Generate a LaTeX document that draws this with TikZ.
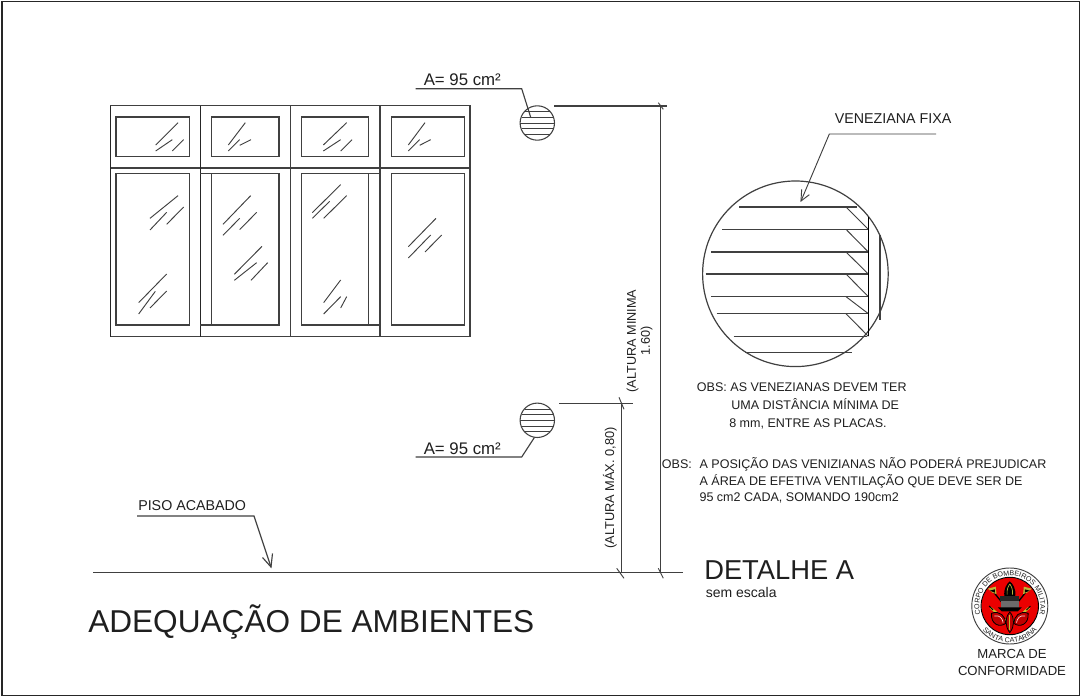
\documentclass[tikz,border=0pt]{standalone}
\usepackage{fontspec}
\setmainfont{Liberation Sans}
\usetikzlibrary{decorations.text}
\definecolor{ln}{gray}{0.25}
\definecolor{tx}{gray}{0.12}
\newcommand{\pxfont}[1]{\fontsize{#1}{#1}\selectfont}
\tikzset{
  line/.style={draw=ln,line width=0.85pt},
  thin line/.style={draw=ln,line width=0.7pt},
  frame line/.style={draw=black!85,line width=0.8pt},
  glass/.style={draw=ln,line width=0.7pt},
  lbl/.style={anchor=base west,inner sep=0pt,text=tx},
  lblc/.style={anchor=base,inner sep=0pt,text=tx,align=center},
  vent/.style={circle,draw=ln,line width=0.8pt,minimum size=25.8pt,inner sep=0pt},
}
\begin{document}
\begin{tikzpicture}[x=0.75pt,y=-0.75pt]
\useasboundingbox (0,0) rectangle (1083,698);
\fill[white] (0,0) rectangle (1083,698);
\draw[frame line] (2,1.5) rectangle (1079.5,695.5);

% window
\draw[line] (110.3,105.7) rectangle (470,336.7);
\draw[line] (110.3,168) -- (470,168);
\draw[frame line] (110.3,105.7) -- (110.3,336.7);
\draw[frame line] (200.3,105.7) -- (200.3,336.7);
\draw[line] (290.3,105.7) -- (290.3,336.7);
\draw[line] (380,105.7) -- (380,336.7);
\foreach \a/\b in {116/189.3,211.7/279,301.3/368.7,391.3/464.3}{
  \draw[line] (\a,117) rectangle (\b,156.7);
  \draw[line] (\a,173.3) rectangle (\b,325);
}
\draw[line] (200.3,173.3) -- (211.7,173.3) (200.3,325) -- (211.7,325);
\draw[line] (368.7,173.3) -- (380,173.3) (368.7,325) -- (380,325);
\begin{scope}[shift={(90,90)},x=0.25pt,y=-0.25pt]
\draw[glass]
 (197,165)--(264,98) (197,183)--(247,149) (247,183)--(281,149)
 (415,165)--(466,98) (415,183)--(449,149) (449,166)--(483,149)
 (700,165)--(770,98) (700,183)--(752,149) (752,183)--(786,149)
 (955,165)--(1005,98) (955,183)--(989,149) (989,166)--(1022,149)
 (180,385)--(264,317) (180,420)--(230,367) (230,403)--(281,351)
 (146,638)--(230,552) (146,672)--(196,604) (180,654)--(230,603)
 (399,403)--(482,317) (399,436)--(449,385) (449,419)--(500,367)
 (433,553)--(516,469) (433,571)--(500,518) (483,571)--(533,518)
 (667,368)--(752,284) (667,385)--(719,334) (701,385)--(770,317)
 (701,638)--(752,570) (701,672)--(752,620) (752,654)--(770,620)
 (955,470)--(1038,385) (955,504)--(1022,435) (1005,486)--(1055,435);
\end{scope}

% small vents
\node[vent] (ventA) at (537.3,123) {};
\node[vent] (ventB) at (537.3,420.3) {};
\foreach \c in {123,420.3}{
  \draw[thin line] (524.5,\c-11.3) -- (550.1,\c-11.3)
   (521.7,\c-5.7) -- (552.9,\c-5.7)
   (520.4,\c) -- (554.2,\c)
   (521.7,\c+5.7) -- (552.9,\c+5.7)
   (524.5,\c+11.3) -- (550.1,\c+11.3);
}
% vent leaders
\coordinate (la1) at (415.7,88.7); \coordinate (la2) at (521.7,88.7); \coordinate (la3) at (530.7,117.3);
\draw[line] (la1) -- (la2) -- (la3);
\coordinate (lb1) at (415.7,457); \coordinate (lb2) at (521.7,457);
\draw[line] (lb1) -- (lb2) -- (ventB.260);
\node[lbl,font=\pxfont{12.6}] (a1) at (423.5,86) {A= 95 cm²};
\node[lbl,font=\pxfont{12.6}] (a2) at (423.5,454.5) {A= 95 cm²};

% ground and dimensions
\coordinate (g1) at (93,572.3); \coordinate (g2) at (683.3,572.3);
\draw[line] (g1) -- (g2);
\draw[line] (554,106) -- (666.7,106);
\draw[line] (559.3,403.7) -- (632.7,403.7);
\draw[thin line] (660.7,106) -- (660.7,572.3);
\draw[thin line] (621.3,403.7) -- (621.3,572.3);
\draw[thin line] (658.3,102.7) -- (663.3,109.3);
\draw[thin line] (619,397.3) -- (624,409.3);
\draw[thin line] (616.7,568.3) -- (624,578.3);
\draw[thin line] (658.3,568.3) -- (663.3,578.3);
\node[font=\pxfont{9.5},text=tx,rotate=90,align=center,inner sep=0pt] (d1) at (639.5,341) {(ALTURA MINIMA\\[1pt]1.60)};
\node[font=\pxfont{9.6},text=tx,rotate=90,inner sep=0pt] (d2) at (610,488) {(ALTURA MÁX. 0,80)};

% piso acabado
\coordinate (p1) at (137,516); \coordinate (p2) at (254,516); \coordinate (p3) at (271,567);
\draw[line] (p1) -- (p2) -- (p3);
\draw[line] (262.5,557.5) -- (p3) -- (272.5,553.5);
\node[lbl,font=\pxfont{10.7}] (piso) at (138,511) {PISO ACABADO};

% big detail
\node[circle,draw=ln,line width=0.9pt,minimum size=139.2pt,inner sep=0pt] (big) at (795.4,273.8) {};
\begin{scope}[shift={(690,100)},x=0.25pt,y=-0.25pt]
\draw[line] (148,321)--(500,321) (97,388)--(535,388) (63,456)--(535,456) (47,522)--(535,522)
 (63,590)--(535,590) (80,641)--(535,641) (131,709)--(530,709) (165,758)--(485,758);
\draw[thin line] (468,321)--(535,388) (468,388)--(535,456) (468,456)--(535,522)
 (468,522)--(535,590) (468,590)--(535,641) (468,641)--(535,709);
\draw[draw=black,line width=0.8pt] (535,352)--(535,709);
\draw[line] (570,405)--(570,660);
\draw[thin line] (738,102)--(418,102)--(333,303);
\draw[thin line] (358,284)--(333,303)--(335,268);
\end{scope}
\node[lbl,font=\pxfont{10.7}] (vf) at (834.5,123.5) {VENEZIANA FIXA};

% notes
\node[lbl,font=\pxfont{9.4}] (o1) at (696.7,392) {OBS: AS VENEZIANAS DEVEM TER};
\node[lbl,font=\pxfont{9.4}] (o2) at (731,410) {UMA DISTÂNCIA MÍNIMA DE};
\node[lbl,font=\pxfont{9.4}] (o3) at (729,427.5) {8 mm, ENTRE AS PLACAS.};
\node[lbl,font=\pxfont{9.4}] (o4) at (661.7,469) {OBS:};
\node[lbl,font=\pxfont{9.4}] (o5) at (699.3,469) {A POSIÇÃO DAS VENIZIANAS NÃO PODERÁ PREJUDICAR};
\node[lbl,font=\pxfont{9.4}] (o6) at (699.3,486) {A ÁREA DE EFETIVA VENTILAÇÃO QUE DEVE SER DE};
\node[lbl,font=\pxfont{9.4}] (o7) at (699.3,501.5) {95 cm2 CADA, SOMANDO 190cm2};

% titles
\node[lbl,font=\pxfont{20.5}] (det) at (704,580) {DETALHE A};
\node[lbl,font=\pxfont{10.5}] (sem) at (705.5,598) {sem escala};
\node[lbl,font=\pxfont{23.7}] (title) at (88,633) {ADEQUAÇÃO DE AMBIENTES};

% seal
\begin{scope}[shift={(1009.8,606)}]
\draw[ln,line width=0.7pt] (0,0) circle (38);
\fill[red!92!black] (0,0) circle (28.5);
\draw[black,line width=0.7pt] (0,0) circle (28.7);
\path[postaction={decorate,decoration={text along path,text align=center,
  text={|\pxfont{5.3}\color{tx}|CORPO DE BOMBEIROS MILITAR}}}]
  (164:30.5) arc[start angle=164,end angle=376,radius=30.5];
\path[postaction={decorate,decoration={text along path,text align=center,
  text={|\pxfont{5.3}\color{tx}|SANTA CATARINA}}}]
  (139:36.5) arc[start angle=139,end angle=41,radius=36.5];
\end{scope}
\begin{scope}[shift={(1009.8,606)},x=0.25pt,y=-0.25pt]
% swords
\draw[yellow!75!black,line width=1.6pt] (-58,5) -- (-8,48);
\draw[yellow!75!black,line width=1.6pt] (58,5) -- (8,48);
\draw[black,line width=0.7pt] (-62,0) -- (-50,12) (62,0) -- (50,12);
% loops
\foreach \s in {-1,1}{
  \draw[black,line width=0.6pt,fill=red!75!black] (\s*55,22) .. controls (\s*30,12) and (\s*12,32) .. (\s*12,52) .. controls (\s*30,66) and (\s*58,55) .. (\s*55,22) -- cycle;
  \draw[white!85!red,line width=0.5pt] (\s*46,30) .. controls (\s*30,26) and (\s*22,38) .. (\s*20,50);
}
\draw[black,line width=0.6pt,fill=red!75!black] (0,18) .. controls (-16,36) and (-14,62) .. (0,80) .. controls (14,62) and (16,36) .. (0,18) -- cycle;
\draw[yellow!75!black,line width=1pt] (0,26) -- (0,72);
% axes
\draw[black,line width=1pt] (-52,-46) -- (-10,6);
\draw[black,line width=1pt] (52,-46) -- (10,6);
\fill[yellow!70!black] (-66,-52) -- (-42,-58) -- (-40,-36) -- (-52,-40) -- cycle;
\fill[yellow!70!black] (66,-52) -- (42,-58) -- (40,-36) -- (52,-40) -- cycle;
\fill[black] (-60,-46) -- (-45,-50) -- (-45,-40) -- cycle;
\fill[black] (60,-46) -- (45,-50) -- (45,-40) -- cycle;
% helmet
\fill[black] (-16,-28) .. controls (-20,-52) and (-8,-68) .. (0,-74) .. controls (8,-68) and (20,-52) .. (16,-28) -- cycle;
\draw[yellow!70!black,line width=0.5pt] (-8,-34) .. controls (-10,-50) and (-4,-60) .. (0,-66) (8,-34) .. controls (10,-50) and (4,-60) .. (0,-66);
\fill[black!85] (-28,-30) rectangle (28,-14);
\fill[gray!85!black] (-27,-14) rectangle (27,8);
\fill[black] (-36,4) -- (36,4) -- (24,16) -- (-24,16) -- cycle;
\end{scope}
\node[lblc,font=\pxfont{9.85}] (m1) at (1012,659) {MARCA DE};
\node[lblc,font=\pxfont{9.85}] (m2) at (1012,676) {CONFORMIDADE};
\end{tikzpicture}
\end{document}
